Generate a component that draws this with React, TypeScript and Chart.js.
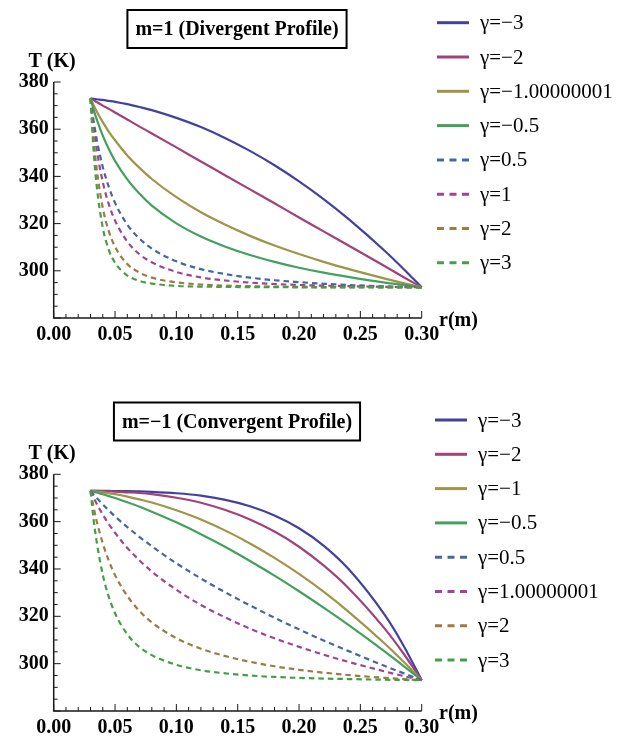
import React, { useEffect, useRef } from "react";
import { Chart, registerables } from "chart.js";
Chart.register(...registerables);

// radial coordinate r (m)
const R = [0.03, 0.0325, 0.035, 0.04, 0.045, 0.05, 0.06, 0.07, 0.08, 0.10, 0.12, 0.14, 0.16, 0.18, 0.20, 0.22, 0.24, 0.27, 0.285, 0.30];

// m = 1 (Divergent Profile)
const divTitle = "m=1 (Divergent Profile)";
const divLabels = ["γ=−3", "γ=−2", "γ=−1.00000001", "γ=−0.5", "γ=0.5", "γ=1", "γ=2", "γ=3"];
const divGm3 = [373, 372.9, 372.7, 372.4, 372.0, 371.6, 370.6, 369.4, 368.1, 364.8, 360.9, 356.2, 350.8, 344.7, 337.9, 330.4, 322.1, 308.4, 300.9, 293];
const divGm2 = [373, 372.3, 371.5, 370.0, 368.6, 367.1, 364.1, 361.1, 358.2, 352.3, 346.3, 340.4, 334.5, 328.6, 322.6, 316.7, 310.8, 301.9, 297.4, 293];
const divGm1 = [373, 370.2, 367.6, 363.0, 358.9, 355.3, 348.9, 343.6, 338.9, 331.2, 324.8, 319.5, 314.8, 310.7, 307.1, 303.8, 300.8, 296.7, 294.8, 293];
const divGm05 = [373, 368.4, 364.3, 357.3, 351.5, 346.6, 338.7, 332.6, 327.6, 320.1, 314.5, 310.2, 306.7, 303.8, 301.3, 299.2, 297.4, 295.0, 294.0, 293];
const divG05 = [373, 363.7, 355.9, 344.0, 335.4, 328.8, 319.6, 313.6, 309.4, 304.0, 300.7, 298.6, 297.1, 296.0, 295.2, 294.5, 294.0, 293.4, 293.2, 293];
const divG1 = [373, 361.0, 351.6, 337.6, 328.1, 321.3, 312.4, 307.0, 303.6, 299.5, 297.2, 295.9, 295.0, 294.4, 294.0, 293.7, 293.5, 293.2, 293.1, 293];
const divG2 = [373, 355.9, 343.4, 326.7, 316.7, 310.2, 302.9, 299.2, 297.1, 295.1, 294.2, 293.7, 293.5, 293.3, 293.2, 293.1, 293.1, 293.0, 293.0, 293];
const divG3 = [373, 351.1, 336.2, 318.3, 308.8, 303.4, 298.0, 295.7, 294.6, 293.6, 293.3, 293.2, 293.1, 293.1, 293.0, 293.0, 293.0, 293.0, 293.0, 293];

// m = -1 (Convergent Profile)
const convTitle = "m=−1 (Convergent Profile)";
const convLabels = ["γ=−3", "γ=−2", "γ=−1", "γ=−0.5", "γ=0.5", "γ=1.00000001", "γ=2", "γ=3"];
const convGm3 = [373, 373.0, 373.0, 373.0, 373.0, 372.9, 372.9, 372.8, 372.6, 372.0, 371.0, 369.2, 366.5, 362.6, 357.2, 349.9, 340.2, 320.5, 307.8, 293];
const convGm2 = [373, 373.0, 373.0, 372.9, 372.8, 372.7, 372.4, 372.1, 371.6, 370.1, 368.0, 364.9, 360.9, 355.8, 349.4, 341.5, 332.1, 314.7, 304.4, 293];
const convGm1 = [373, 372.9, 372.7, 372.4, 372.0, 371.6, 370.6, 369.4, 368.1, 364.8, 360.9, 356.2, 350.8, 344.7, 337.9, 330.4, 322.1, 308.4, 300.9, 293];
const convGm05 = [373, 372.7, 372.3, 371.6, 370.8, 370.0, 368.2, 366.3, 364.2, 359.7, 354.7, 349.3, 343.4, 337.2, 330.6, 323.7, 316.5, 305.1, 299.1, 293];
const convG05 = [373, 371.5, 370.0, 367.3, 364.7, 362.2, 357.7, 353.5, 349.6, 342.4, 336.0, 330.1, 324.6, 319.4, 314.5, 309.8, 305.4, 299.0, 296.0, 293];
const convG1 = [373, 370.2, 367.6, 363.0, 358.9, 355.3, 348.9, 343.6, 338.9, 331.2, 324.8, 319.5, 314.8, 310.7, 307.1, 303.8, 300.8, 296.7, 294.8, 293];
const convG2 = [373, 366.2, 360.3, 350.8, 343.4, 337.4, 328.6, 322.2, 317.4, 310.8, 306.3, 303.2, 300.8, 298.9, 297.4, 296.2, 295.2, 294.0, 293.5, 293];
const convG3 = [373, 361.0, 351.6, 337.6, 328.1, 321.3, 312.4, 307.0, 303.6, 299.5, 297.2, 295.9, 295.0, 294.4, 294.0, 293.7, 293.5, 293.2, 293.1, 293];

const COLORS = ["#43419F", "#A0437A", "#A0944A", "#44A05C", "#4468A3", "#A04494", "#A07A44", "#44A044"];
const DASHED = [false, false, false, false, true, true, true, true];

const SERIF = '"Liberation Serif", "Times New Roman", serif';
const W = 626;
const PLOT_LEFT = 53.7;
const PLOT_RIGHT = 421.7;

type PanelProps = {
  top: number;
  height: number;
  plotTop: number;
  plotBottom: number;
  title: string;
  titleCY: number;
  legendY0: number;
  legendLineX: number;
  labels: string[];
  series: number[][];
};

function Panel(p: PanelProps) {
  const ref = useRef<HTMLCanvasElement>(null);
  useEffect(() => {
    if (!ref.current) return;
    const datasets = p.series.map((s, i) => ({
      label: p.labels[i],
      data: R.map((r, j) => ({ x: r, y: s[j] })),
      borderColor: COLORS[i],
      backgroundColor: COLORS[i],
      borderWidth: 2.2,
      borderDash: DASHED[i] ? [5.5, 4] : [],
      pointRadius: 0,
      cubicInterpolationMode: "monotone" as const,
      fill: false,
      order: 8 - i,
      clip: false as const,
    }));
    const decor = {
      id: "decor",
      afterDraw(chart: any) {
        const ctx = chart.ctx as CanvasRenderingContext2D;
        const xs = chart.scales.x;
        const ys = chart.scales.y;
        const a = chart.chartArea;
        ctx.save();
        ctx.strokeStyle = "#1a1a1a";
        ctx.lineWidth = 1.5;
        ctx.setLineDash([]);
        ctx.beginPath();
        ctx.moveTo(a.left, a.top);
        ctx.lineTo(a.left, a.bottom);
        ctx.lineTo(a.right, a.bottom);
        ctx.stroke();
        ctx.lineWidth = 1;
        for (let i = 0; i <= 20; i++) {
          const v = 280 + i * 5;
          const y = ys.getPixelForValue(v);
          const len = v % 20 === 0 ? 7 : 4;
          ctx.beginPath();
          ctx.moveTo(a.left, y);
          ctx.lineTo(a.left + len, y);
          ctx.stroke();
        }
        for (let i = 0; i <= 30; i++) {
          const x = xs.getPixelForValue(i / 100);
          const len = i % 5 === 0 ? 7 : 4;
          ctx.beginPath();
          ctx.moveTo(x, a.bottom);
          ctx.lineTo(x, a.bottom - len);
          ctx.stroke();
        }
        // axis labels
        ctx.fillStyle = "#000";
        ctx.font = `bold 20px ${SERIF}`;
        ctx.textAlign = "center";
        ctx.textBaseline = "middle";
        ctx.fillText("T (K)", 52, a.top - 20);
        ctx.textAlign = "left";
        ctx.fillText("r(m)", 439, a.bottom + 3);
        // title box
        ctx.font = `bold 20px ${SERIF}`;
        const tw = ctx.measureText(p.title).width;
        ctx.lineWidth = 2;
        ctx.strokeStyle = "#000";
        ctx.strokeRect(237 - tw / 2 - 8, p.titleCY - 19, tw + 16, 38);
        ctx.textAlign = "center";
        ctx.fillText(p.title, 237, p.titleCY + 1);
        // legend
        ctx.font = `21px ${SERIF}`;
        ctx.textAlign = "left";
        for (let i = 0; i < p.labels.length; i++) {
          const y = p.legendY0 + i * 34.3;
          ctx.strokeStyle = COLORS[i];
          ctx.lineWidth = 3;
          ctx.lineCap = "butt";
          ctx.setLineDash(DASHED[i] ? [7, 5.5] : []);
          ctx.beginPath();
          ctx.moveTo(p.legendLineX, y);
          ctx.lineTo(p.legendLineX + 32, y);
          ctx.stroke();
          ctx.setLineDash([]);
          ctx.fillStyle = "#000";
          ctx.fillText(p.labels[i], p.legendLineX + 43, y + 1);
        }
        ctx.restore();
      },
    };
    const tickFont = { family: SERIF, size: 20, weight: "bold" as const };
    const chart = new Chart(ref.current, {
      type: "line",
      data: { datasets: datasets as any },
      options: {
        animation: false,
        responsive: false,
        devicePixelRatio: 1,
        layout: { padding: { top: p.plotTop, right: W - PLOT_RIGHT, bottom: 0, left: 0 } },
        plugins: { legend: { display: false }, tooltip: { enabled: false }, title: { display: false } },
        scales: {
          x: {
            type: "linear",
            min: 0,
            max: 0.3,
            grid: { display: false, drawTicks: false },
            border: { display: false },
            ticks: {
              stepSize: 0.05,
              autoSkip: false,
              maxRotation: 0,
              padding: 5,
              color: "#000",
              font: tickFont,
              callback: (v: any) => Number(v).toFixed(2),
            },
            afterFit: (s: any) => {
              s.height = p.height - p.plotBottom;
            },
          },
          y: {
            type: "linear",
            min: 280,
            max: 380,
            grid: { display: false, drawTicks: false },
            border: { display: false },
            ticks: {
              stepSize: 20,
              padding: 5,
              color: "#000",
              font: tickFont,
              callback: (v: any) => (Number(v) === 280 ? "" : String(v)),
            },
            afterFit: (s: any) => {
              s.width = PLOT_LEFT;
            },
          },
        },
      },
      plugins: [decor],
    });
    return () => chart.destroy();
  }, []);
  return (
    <canvas
      ref={ref}
      width={W}
      height={p.height}
      style={{ position: "absolute", left: 0, top: p.top, width: W, height: p.height }}
    />
  );
}

export default function App() {
  return (
    <div style={{ position: "absolute", left: 0, top: 0, width: 626, height: 736, background: "#fff" }}>
      <Panel
        top={0}
        height={368}
        plotTop={82}
        plotBottom={318}
        title={divTitle}
        titleCY={29}
        legendY0={22.7}
        legendLineX={437}
        labels={divLabels}
        series={[divGm3, divGm2, divGm1, divGm05, divG05, divG1, divG2, divG3]}
      />
      <Panel
        top={390}
        height={346}
        plotTop={84.3}
        plotBottom={321}
        title={convTitle}
        titleCY={31.5}
        legendY0={30}
        legendLineX={435}
        labels={convLabels}
        series={[convGm3, convGm2, convGm1, convGm05, convG05, convG1, convG2, convG3]}
      />
    </div>
  );
}
